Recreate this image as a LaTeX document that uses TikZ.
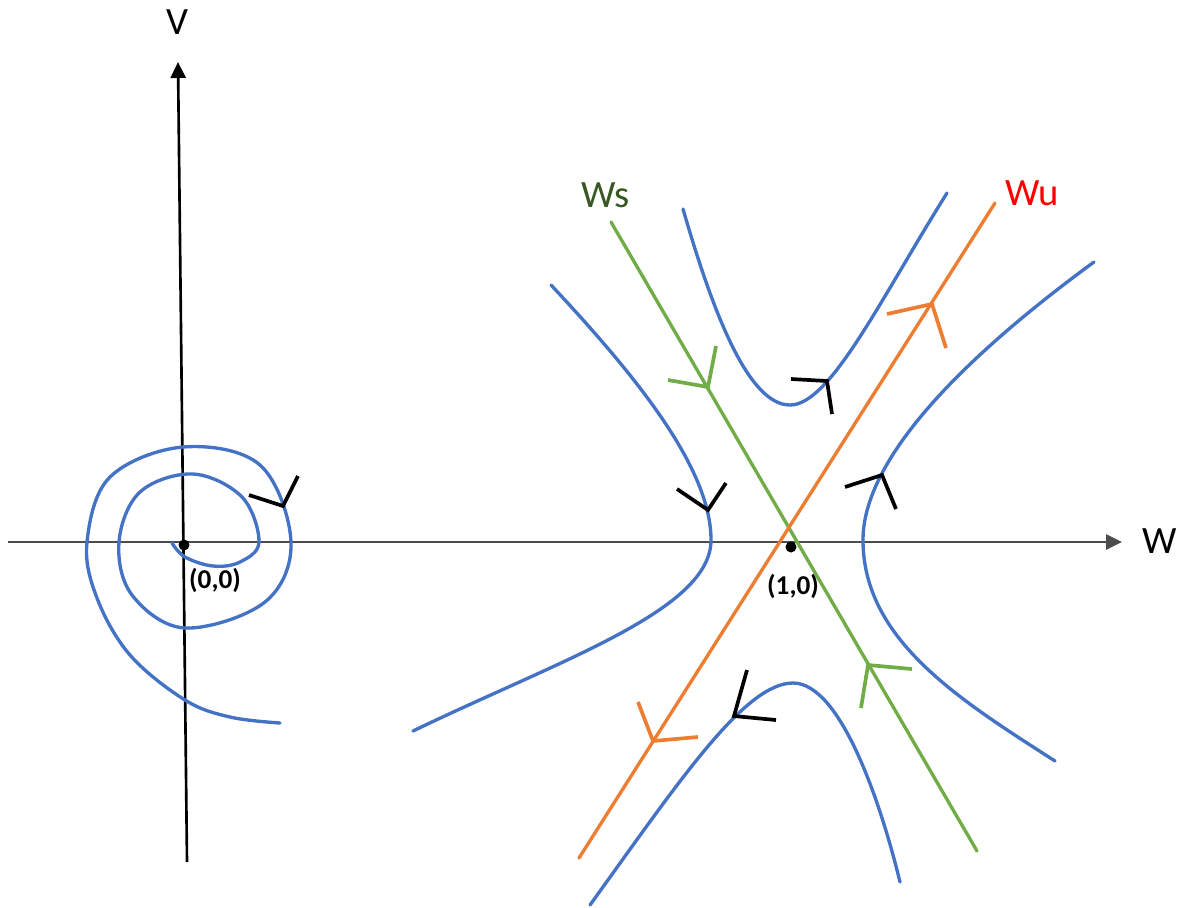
\documentclass[tikz,border=0pt]{standalone}
\usepackage{fontspec}
\setmainfont{Carlito}
\usetikzlibrary{arrows.meta}
\definecolor{cblue}{HTML}{4472C4}
\definecolor{corange}{HTML}{ED7D31}
\definecolor{cgreen}{HTML}{70AD47}
\definecolor{cdgreen}{HTML}{385723}
\tikzset{
  axisline/.style={line width=1.5pt,-{Triangle[length=0.32cm,width=0.3cm]}},
  orbit/.style={cblue,line width=1.9pt,line cap=round},
  manif/.style={line width=1.9pt,line cap=round},
  chevron/.style={line width=2.1pt,line join=miter},
  lbl/.style={font=\fontsize{22}{24}\selectfont,inner sep=0pt},
  ptlbl/.style={font=\bfseries\fontsize{15.5}{17}\selectfont,inner sep=0pt},
  pt/.style={circle,fill=black,inner sep=0pt,minimum size=0.22cm}
}
\newcommand{\chev}[4][black]{\draw[chevron,#1] #3 -- #2 -- #4;}
\begin{document}
\begin{tikzpicture}[x=0.02cm,y=-0.02cm]
\useasboundingbox (0,0) rectangle (1195,907);
% axes
\coordinate (hl) at (8,542);
\coordinate (hr) at (1122,542);
\coordinate (vb) at (187,862);
\coordinate (vt) at (178,62);
\draw[axisline,draw=black!70] (hl) -- (hr);
\draw[axisline] (vb) -- (vt);
\node[lbl] (V) at (177,22) {V};
\node[lbl] (W) at (1160,541) {W};
% spiral
\draw[orbit] plot[smooth,tension=0.6] coordinates {(280,723) (230,717) (185,700) (130,655) (97,598) (87,542) (110,477) (183,447) (260,465) (291,542) (265,602) (185,628) (132,595) (119,542) (140,492) (193,474) (242,497) (259,542) (240,562) (213,566) (185,557) (172,543)};
\chev{(283,506)}{(249,495)}{(298,476)}
\node[pt] (O) at (184,545) {};
\node[ptlbl] (Olbl) at (215,580) {(0,0)};
% manifolds
\coordinate (ws1) at (611,222);
\coordinate (ws2) at (977,851);
\coordinate (wu1) at (995,203);
\coordinate (wu2) at (579,858);
\draw[manif,cgreen] (ws1) -- (ws2);
\draw[manif,corange] (wu1) -- (wu2);
\node[lbl,text=cdgreen] (Ws) at (606,195) {Ws};
\node[lbl,text=red] (Wu) at (1032,193) {Wu};
\chev[cgreen]{(708,387)}{(668,380)}{(716,346)}
\chev[cgreen]{(868,665)}{(912,669)}{(861,708)}
\chev[corange]{(932,304)}{(887,314)}{(946,348)}
\chev[corange]{(653,741)}{(638,702)}{(698,737)}
% hyperbolic orbits
\draw[orbit] (683,209) .. controls (715,320) and (750,405) .. (790,405)
  .. controls (830,405) and (880,300) .. (947,193);
\draw[orbit] (551,285) .. controls (640,380) and (711,470) .. (711,540)
  .. controls (711,610) and (560,660) .. (413,731);
\draw[orbit] (1094,262) .. controls (960,360) and (863,460) .. (863,540)
  .. controls (863,640) and (960,700) .. (1055,761);
\draw[orbit] (590,905) .. controls (680,780) and (745,683) .. (793,683)
  .. controls (840,683) and (880,800) .. (900,882);
\chev{(827,381)}{(791,379)}{(832,414)}
\chev{(708,510)}{(677,489)}{(726,483)}
\chev{(882,475)}{(845,487)}{(896,509)}
\chev{(734,716)}{(747,670)}{(776,720)}
\node[pt] (S) at (791,547) {};
\node[ptlbl] (Slbl) at (793,586) {(1,0)};
\end{tikzpicture}
\end{document}
